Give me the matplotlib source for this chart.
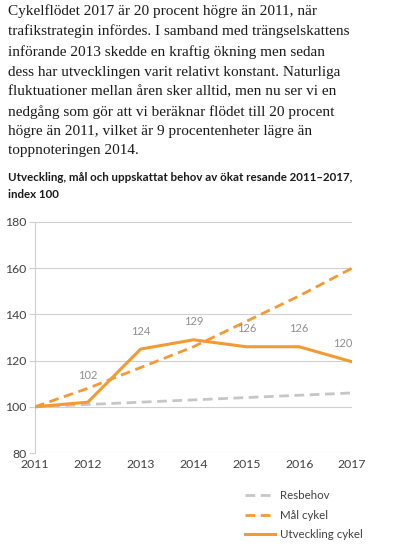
import matplotlib.pyplot as plt
from matplotlib.lines import Line2D

years = [2011, 2012, 2013, 2014, 2015, 2016, 2017]
resbehov = [100, 101, 102, 103, 104, 105, 106]
mal_cykel = [100, 108, 117, 126, 137, 148, 160]
utv_cykel = [100, 102, 125, 129, 126, 126, 119.5]
utv_labels = ["", "102", "124", "129", "126", "126", "120"]

intro = ("Cykelflödet 2017 är 20 procent högre än 2011, när\n"
         "trafikstrategin infördes. I samband med trängselskattens\n"
         "införande 2013 skedde en kraftig ökning men sedan\n"
         "dess har utvecklingen varit relativt konstant. Naturliga\n"
         "fluktuationer mellan åren sker alltid, men nu ser vi en\n"
         "nedgång som gör att vi beräknar flödet till 20 procent\n"
         "högre än 2011, vilket är 9 procentenheter lägre än\n"
         "toppnoteringen 2014.")
title = ("Utveckling, mål och uppskattat behov av ökat resande 2011–2017,\n"
         "index 100")

orange = "#F39A33"
grey = "#C6C6C6"
txt = "#404040"

fig = plt.figure(figsize=(3.96, 5.5), dpi=100)
fig.text(8/396, 1-4/550, intro, family="Liberation Serif", fontsize=11.0,
         va="top", ha="left", color="#1a1a1a", linespacing=1.64)
fig.text(8/396, 1-172/550, title, family="Lato", fontweight="bold", fontsize=8.3,
         va="top", ha="left", color="#1a1a1a", linespacing=1.65)

ax = fig.add_axes([35/396, 1-453/550, 317/396, 231/550])
ax.plot(years, resbehov, color=grey, lw=2, dashes=(3.5, 2), zorder=3)
ax.plot(years, mal_cykel, color=orange, lw=2, dashes=(3.5, 2), zorder=3)
ax.plot(years, utv_cykel, color=orange, lw=2.2, zorder=4)

for i, (x, y, lab) in enumerate(zip(years, utv_cykel, utv_labels)):
    if not lab:
        continue
    dy = 15 if i == 1 else 9
    dx = -7 if i == 6 else 0
    ax.annotate(lab, (x, y), xytext=(dx, dy), textcoords="offset points",
                ha="center", va="bottom", fontsize=8, color="#8f8f8f", family="Lato")

ax.set_xlim(2011, 2017)
ax.set_ylim(80, 180)
ax.set_yticks(range(80, 181, 20))
ax.set_xticks(years)
ax.grid(axis="y", color="#d0d0d0", lw=0.8)
ax.set_axisbelow(True)
for s in ["top", "right", "bottom"]:
    ax.spines[s].set_visible(False)
ax.spines["left"].set_color("#cfcfcf")
ax.tick_params(axis="y", length=4, color="#cfcfcf", labelsize=8.8, labelcolor=txt, pad=2)
ax.tick_params(axis="x", length=0, labelsize=8.8, labelcolor=txt, pad=4)
for lab in ax.get_xticklabels() + ax.get_yticklabels():
    lab.set_family("Lato")

handles = [Line2D([], [], color=grey, lw=2, dashes=(3.5, 2)),
           Line2D([], [], color=orange, lw=2, dashes=(3.5, 2)),
           Line2D([], [], color=orange, lw=2.2)]
fig.legend(handles, ["Resbehov", "Mål cykel", "Utveckling cykel"],
           loc="upper left", bbox_to_anchor=(245/396, 1-490/550), frameon=False,
           prop={"family": "Lato", "size": 8.3}, labelcolor=txt, handlelength=2.6,
           handletextpad=0.4, labelspacing=0.75, borderaxespad=0, borderpad=0)

fig.savefig("out.png", dpi=100)
